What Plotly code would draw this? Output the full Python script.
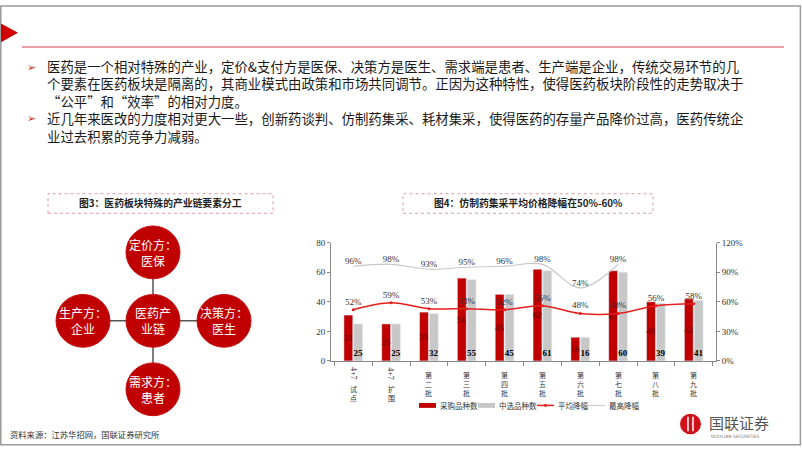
import plotly.graph_objects as go

# ---------------- data ----------------
categories = ["4+7试点", "4+7扩围", "第二批", "第三批", "第四批", "第五批", "第六批", "第七批", "第八批", "第九批"]
purchased = [31, 25, 33, 56, 45, 62, 16, 61, 40, 42]
selected = [25, 25, 32, 55, 45, 61, 16, 60, 39, 41]
avg_drop = [0.52, 0.59, 0.53, 0.53, 0.52, 0.56, 0.48, 0.48, 0.56, 0.58]
max_drop = [0.96, 0.98, 0.93, 0.95, 0.96, 0.98, 0.74, 0.98, None, None]
series_names = ["采购品种数", "中选品种数", "平均降幅", "最高降幅"]

para_lines = [
    "医药是一个相对特殊的产业，定价&支付方是医保、决策方是医生、需求端是患者、生产端是企业，传统交易环节的几",
    "个要素在医药板块是隔离的，其商业模式由政策和市场共同调节。正因为这种特性，使得医药板块阶段性的走势取决于",
    "“公平”和“效率”的相对力度。",
    "近几年来医改的力度相对更大一些，创新药谈判、仿制药集采、耗材集采，使得医药的存量产品降价过高，医药传统企",
    "业过去积累的竞争力减弱。",
]
bullet_rows = [0, 3]
fig3_title = "图3：医药板块特殊的产业链要素分工"
fig4_title = "图4：仿制药集采平均价格降幅在50%-60%"
nodes = [("医药产", "业链"), ("定价方：", "医保"), ("生产方：", "企业"), ("决策方：", "医生"), ("需求方：", "患者")]
source_text = "资料来源：江苏华招网，国联证券研究所"

W, H = 802, 451
def px(x): return x / W
def py(y): return 1 - y / H

RED = "#C00000"
GREY = "#C8C8C8"
LINE_RED = "#E3201C"
CJK = "Noto Sans CJK SC"
SERIF = "Liberation Serif"

fig = go.Figure()
fig.add_trace(go.Bar(
    x=categories, y=purchased, name=series_names[0], marker_color=RED,
    text=purchased, textposition="inside", insidetextanchor="middle", textangle=0,
    textfont=dict(family=SERIF, size=9, color="#6a0000"), cliponaxis=False))
fig.add_trace(go.Bar(
    x=categories, y=selected, name=series_names[1], marker_color=GREY,
    text=selected, textposition="inside", insidetextanchor="start", textangle=0,
    textfont=dict(family=SERIF, size=9, color="#000000"), cliponaxis=False,
    texttemplate="<b>%{text}</b>"))
fig.add_trace(go.Scatter(
    x=categories, y=avg_drop, name=series_names[2], yaxis="y2", mode="lines+markers+text",
    line=dict(color=LINE_RED, width=1.5, shape="spline", smoothing=1),
    marker=dict(size=3, color=LINE_RED),
    text=[f"{v:.0%}" for v in avg_drop], textposition="top center",
    textfont=dict(family=SERIF, size=9, color="#333333"), cliponaxis=False))
fig.add_trace(go.Scatter(
    x=categories, y=max_drop, name=series_names[3], yaxis="y2", mode="lines+text",
    line=dict(color=GREY, width=1.2, shape="spline", smoothing=1),
    text=[f"{v:.0%}" if v is not None else "" for v in max_drop], textposition="top center",
    textfont=dict(family=SERIF, size=9, color="#333333"), cliponaxis=False))

axis_common = dict(showgrid=False, zeroline=False, showline=True, linecolor="#888888", linewidth=1,
                   ticks="outside", ticklen=3, tickcolor="#888888",
                   tickfont=dict(family=SERIF, size=9, color="#333333"))
fig.update_layout(
    width=W, height=H, margin=dict(l=0, r=0, t=0, b=0),
    paper_bgcolor="white", plot_bgcolor="white",
    barmode="group", bargap=0.48, bargroupgap=0.1,
    uniformtext=dict(mode="show", minsize=9),
    xaxis=dict(domain=[px(331), px(716)], showgrid=False, showline=True, linecolor="#888888",
               ticks="outside", ticklen=4, tickcolor="#888888", tickson="boundaries",
               showticklabels=False),
    yaxis=dict(domain=[py(364), py(243)], range=[0, 80], dtick=20, **axis_common),
    yaxis2=dict(overlaying="y", side="right", range=[0, 1.2], dtick=0.3, tickformat=".0%",
                anchor="x", **axis_common),
    showlegend=False,
)

shapes = []
ann = []
# slide border
shapes.append(dict(type="rect", xref="paper", yref="paper", x0=0.001, y0=0.003, x1=0.998, y1=0.998,
                   line=dict(color="#999999", width=1.5)))
# red triangle
shapes.append(dict(type="path", xref="paper", yref="paper",
                   path=f"M {px(1)},{py(19)} L {px(18)},{py(28.5)} L {px(1)},{py(38)} Z",
                   fillcolor="#D10000", line=dict(width=0)))
# header line
shapes.append(dict(type="line", xref="paper", yref="paper", x0=px(22), x1=px(784), y0=py(43), y1=py(43),
                   line=dict(color="#E4808A", width=1.5)))
# paragraph text (single multi-line block)
para_size = 13.4
spacing = para_size * 1.3
para_center = 98.5
ann.append(dict(xref="paper", yref="paper", x=px(46), y=py(para_center), text="<br>".join(para_lines),
                showarrow=False, xanchor="left", yanchor="middle", align="left", borderpad=0,
                font=dict(family=CJK, size=para_size, color="#1a1a1a")))
n = len(para_lines)
for i in bullet_rows:
    yy = para_center + (i - (n - 1) / 2) * spacing
    ann.append(dict(xref="paper", yref="paper", x=px(31), y=py(yy), text="➢", showarrow=False,
                    xanchor="center", yanchor="middle", borderpad=0,
                    font=dict(family="DejaVu Sans", size=11, color="#C03020")))
# title boxes
for (x0, x1, title) in [(48, 273, fig3_title), (403, 653, fig4_title)]:
    shapes.append(dict(type="rect", xref="paper", yref="paper", x0=px(x0), x1=px(x1), y0=py(213), y1=py(193),
                       line=dict(color="#E09AA4", width=1, dash="dot")))
    ann.append(dict(xref="paper", yref="paper", x=px((x0 + x1) / 2), y=py(203), text=f"<b>{title}</b>",
                    showarrow=False, xanchor="center", yanchor="middle",
                    font=dict(family=CJK, size=9.8, color="#222222")))
# diagram
centers = [(153, 323), (153, 253), (83, 323), (224, 323), (153, 393)]
r = 27
for (cx, cy) in centers[1:]:
    shapes.append(dict(type="line", xref="paper", yref="paper", x0=px(153), y0=py(323), x1=px(cx), y1=py(cy),
                       line=dict(color="#555555", width=1.5)))
for (cx, cy), (l1, l2) in zip(centers, nodes):
    shapes.append(dict(type="circle", xref="paper", yref="paper", x0=px(cx - r), x1=px(cx + r),
                       y0=py(cy + r), y1=py(cy - r), fillcolor=RED, line=dict(color="#C41010", width=1)))
    ann.append(dict(xref="paper", yref="paper", x=px(cx), y=py(cy), text=f"{l1}<br>{l2}", showarrow=False,
                    xanchor="center", yanchor="middle", align="center", borderpad=0,
                    font=dict(family=CJK, size=12, color="white")))
# category labels (vertical)
for c in categories:
    if c.startswith("4+7"):
        ann.append(dict(xref="x", yref="paper", x=c, y=py(369), text="4+7", textangle=90, showarrow=False,
                        xanchor="center", yanchor="top", borderpad=0,
                        font=dict(family=SERIF, size=8, color="#333333")))
        rest = c[3:]
        top = 387
    else:
        rest = c
        top = 372
    ann.append(dict(xref="x", yref="paper", x=c, y=py(top), text="<br>".join(rest), showarrow=False,
                    xanchor="center", yanchor="top", borderpad=0,
                    font=dict(family=CJK, size=7, color="#333333")))
# custom legend
ly = 409.5
leg_items = [
    ("bar", RED, 419, 436, 439),
    ("bar", GREY, 478, 495, 498),
    ("line_marker", LINE_RED, 537, 554, 557),
    ("line", GREY, 588, 605, 608),
]
for (kind, col, x0, x1, tx), name in zip(leg_items, series_names):
    if kind == "bar":
        shapes.append(dict(type="rect", xref="paper", yref="paper", x0=px(x0), x1=px(x1),
                           y0=py(ly + 2.5), y1=py(ly - 2.5), fillcolor=col, line=dict(width=0)))
    else:
        shapes.append(dict(type="line", xref="paper", yref="paper", x0=px(x0), x1=px(x1),
                           y0=py(ly), y1=py(ly), line=dict(color=col, width=1.5 if kind == "line_marker" else 1)))
        if kind == "line_marker":
            mx = (x0 + x1) / 2
            shapes.append(dict(type="circle", xref="paper", yref="paper", x0=px(mx - 1.5), x1=px(mx + 1.5),
                               y0=py(ly + 1.5), y1=py(ly - 1.5), fillcolor=col, line=dict(width=0)))
    ann.append(dict(xref="paper", yref="paper", x=px(tx), y=py(ly), text=name, showarrow=False,
                    xanchor="left", yanchor="middle", borderpad=0,
                    font=dict(family=CJK, size=7.5, color="#333333")))
# footer
ann.append(dict(xref="paper", yref="paper", x=px(8), y=py(439), text=source_text, showarrow=False,
                xanchor="left", yanchor="middle", font=dict(family=CJK, size=8.3, color="#333333")))
# logo
shapes.append(dict(type="circle", xref="paper", yref="paper", x0=px(680), x1=px(701), y0=py(439), y1=py(418),
                   fillcolor="#D0101A", line=dict(width=0)))
for xx in [688, 693]:
    shapes.append(dict(type="line", xref="paper", yref="paper", x0=px(xx), x1=px(xx), y0=py(436), y1=py(421),
                       line=dict(color="white", width=1.5)))
ann.append(dict(xref="paper", yref="paper", x=px(708), y=py(427), text="国联证券", showarrow=False,
                xanchor="left", yanchor="middle", borderpad=0,
                font=dict(family=CJK, size=15, color="#555555")))
ann.append(dict(xref="paper", yref="paper", x=px(710), y=py(438), text="GUOLIAN SECURITIES", showarrow=False,
                xanchor="left", yanchor="top", borderpad=0,
                font=dict(family="DejaVu Sans", size=4.5, color="#777777")))

fig.update_layout(shapes=shapes, annotations=ann)
fig.write_html("out.html", config={"displayModeBar": False},
               post_script="document.body.style.margin='0px';")
